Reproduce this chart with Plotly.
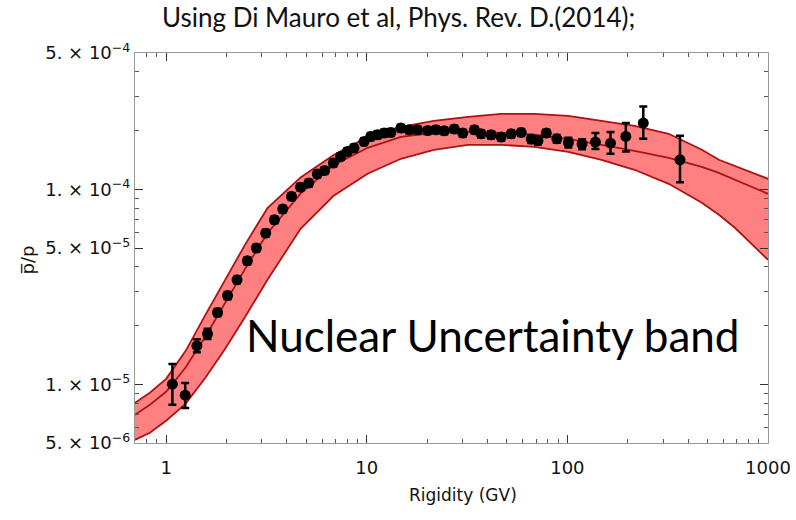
import plotly.graph_objects as go

# ---- data ----
band_x = [0.70, 0.83, 1.0, 1.25, 1.57, 1.97, 2.48, 3.2, 4.68, 6.84, 10.1, 14.8, 21.6, 32, 46.8,
          68.4, 101, 148, 216, 320, 468, 569, 684, 1000]
band_upper = [8.04e-6, 9.05e-6, 1.067e-5, 1.48e-5, 2.27e-5, 3.42e-5, 5.22e-5, 8.0e-5, 1.15e-4,
              1.50e-4, 1.858e-4, 2.091e-4, 2.245e-4, 2.353e-4, 2.438e-4, 2.438e-4, 2.381e-4,
              2.245e-4, 2.117e-4, 1.926e-4, 1.594e-4, 1.417e-4, 1.320e-4, 1.132e-4]
band_lower = [5.19e-6, 5.64e-6, 6.50e-6, 7.94e-6, 1.080e-5, 1.521e-5, 2.220e-5, 3.435e-5, 6.27e-5,
              9.26e-5, 1.201e-4, 1.434e-4, 1.594e-4, 1.691e-4, 1.691e-4, 1.651e-4, 1.557e-4,
              1.417e-4, 1.259e-4, 1.067e-4, 8.53e-5, 7.40e-5, 6.35e-5, 4.35e-5]
band_center = [6.98e-6, 7.85e-6, 9.15e-6, 1.22e-5, 1.76e-5, 2.62e-5, 3.92e-5, 5.95e-5, 9.5e-5,
               1.33e-4, 1.632e-4, 1.858e-4, 1.949e-4, 1.972e-4, 1.949e-4, 1.904e-4, 1.816e-4,
               1.691e-4, 1.576e-4, 1.450e-4, 1.304e-4, 1.215e-4, 1.119e-4, 9.48e-5]

rigidity = [1.075, 1.245, 1.424, 1.609, 1.805, 2.025, 2.257, 2.541, 2.818, 3.137, 3.467, 3.815,
            4.217, 4.677, 5.146, 5.669, 6.166, 6.816, 7.413, 8.008, 8.642, 9.694, 10.47, 11.31,
            12.21, 13.18, 14.79, 16.27, 17.92, 20.11, 22.13, 24.35, 27.32, 30.10, 34.40, 37.15,
            41.69, 46.77, 52.48, 58.88, 66.07, 71.38, 78.52, 88.61, 101.2, 118.4, 138.0, 164.1,
            195.6, 239.0, 364.3]
ratio = [1.002e-5, 8.80e-6, 1.576e-5, 1.816e-5, 2.335e-5, 2.853e-5, 3.435e-5, 4.30e-5, 4.995e-5,
         5.96e-5, 6.98e-5, 7.92e-5, 9.19e-5, 1.026e-4, 1.076e-4, 1.197e-4, 1.249e-4, 1.363e-4,
         1.473e-4, 1.563e-4, 1.627e-4, 1.758e-4, 1.866e-4, 1.904e-4, 1.942e-4, 1.956e-4, 2.060e-4,
         2.019e-4, 2.019e-4, 2.002e-4, 2.019e-4, 1.995e-4, 2.036e-4, 1.942e-4, 2.019e-4, 1.926e-4,
         1.904e-4, 1.852e-4, 1.926e-4, 1.956e-4, 1.809e-4, 1.779e-4, 1.942e-4, 1.816e-4, 1.738e-4,
         1.705e-4, 1.746e-4, 1.725e-4, 1.866e-4, 2.185e-4, 1.417e-4]
err_plus = [2.67e-6, 1.34e-6, 1.25e-6, 1.1e-6, 1.0e-6, 1.2e-6, 1.4e-6, 1.7e-6, 2.0e-6, 2.4e-6,
            2.8e-6, 3.2e-6, 3.7e-6, 4.1e-6, 4.3e-6, 4.8e-6, 5.0e-6, 5.5e-6, 5.9e-6, 6.3e-6, 6.5e-6,
            7.0e-6, 8e-6, 8e-6, 8e-6, 8e-6, 8e-6, 8e-6, 8e-6, 8e-6, 8e-6, 8e-6, 8e-6, 8e-6, 8e-6,
            8e-6, 8e-6, 8e-6, 8e-6, 8e-6, 8e-6, 8e-6, 8e-6, 8.5e-6, 1.0e-5, 1.0e-5, 1.96e-5,
            2.40e-5, 3.21e-5, 4.72e-5, 4.65e-5]
err_minus = [2.17e-6, 1.25e-6, 1.17e-6, 1.1e-6, 1.0e-6, 1.2e-6, 1.4e-6, 1.7e-6, 2.0e-6, 2.4e-6,
             2.8e-6, 3.2e-6, 3.7e-6, 4.1e-6, 4.3e-6, 4.8e-6, 5.0e-6, 5.5e-6, 5.9e-6, 6.3e-6, 6.5e-6,
             7.0e-6, 8e-6, 8e-6, 8e-6, 8e-6, 8e-6, 8e-6, 8e-6, 8e-6, 8e-6, 8e-6, 8e-6, 8e-6, 8e-6,
             8e-6, 8e-6, 8e-6, 8e-6, 8e-6, 8e-6, 8e-6, 8e-6, 8.5e-6, 1.0e-5, 1.0e-5, 1.38e-5,
             2.05e-5, 3.04e-5, 3.69e-5, 3.29e-5]

x_major = [1, 10, 100, 1000]
x_major_text = ["1", "10", "100", "1000"]
x_minor = [0.8, 0.9, 2, 3, 4, 5, 6, 7, 8, 9, 20, 30, 40, 50, 60, 70, 80, 90,
           200, 300, 400, 500, 600, 700, 800, 900]
y_major = [5e-6, 1e-5, 5e-5, 1e-4, 5e-4]
y_major_text = ["5. × 10<sup>−6</sup>", "1. × 10<sup>−5</sup>", "5. × 10<sup>−5</sup>",
                "1. × 10<sup>−4</sup>", "5. × 10<sup>−4</sup>"]
y_minor = [6e-6, 7e-6, 8e-6, 9e-6, 2e-5, 3e-5, 4e-5, 6e-5, 7e-5, 8e-5, 9e-5,
           2e-4, 3e-4, 4e-4]

BAND_FILL = "rgb(255,128,128)"
BAND_LINE = "rgb(175,18,18)"

fig = go.Figure()
fig.add_trace(go.Scatter(x=band_x, y=band_upper, mode="lines",
                         line=dict(color=BAND_LINE, width=1.8), hoverinfo="skip"))
fig.add_trace(go.Scatter(x=band_x, y=band_lower, mode="lines", fill="tonexty",
                         fillcolor=BAND_FILL, line=dict(color=BAND_LINE, width=1.8),
                         hoverinfo="skip"))
fig.add_trace(go.Scatter(x=band_x, y=band_center, mode="lines",
                         line=dict(color=BAND_LINE, width=1.8), hoverinfo="skip"))
fig.add_trace(go.Scatter(x=rigidity, y=ratio, mode="markers",
                         marker=dict(color="black", size=11),
                         error_y=dict(type="data", symmetric=False, array=err_plus,
                                      arrayminus=err_minus, color="black", thickness=2.5,
                                      width=4)))

tickfont = dict(family="DejaVu Sans", size=18, color="#111")
fig.update_xaxes(type="log", range=[-0.155, 3.0], tickmode="array", tickvals=x_major,
                 ticktext=x_major_text, ticks="inside", ticklen=8, tickcolor="#333",
                 showline=True, linecolor="#999", linewidth=1, mirror="ticks",
                 showgrid=False, zeroline=False, tickfont=tickfont, ticklabelstandoff=8,
                 automargin=False,
                 minor=dict(tickmode="array", tickvals=x_minor, ticks="inside", ticklen=4,
                            tickcolor="#555", showgrid=False))
fig.update_yaxes(type="log", range=[-5.30103, -3.30103], tickmode="array", tickvals=y_major,
                 ticktext=y_major_text, ticks="inside", ticklen=8, tickcolor="#333",
                 showline=True, linecolor="#999", linewidth=1, mirror="ticks",
                 showgrid=False, zeroline=False, tickfont=tickfont, automargin=False,
                 minor=dict(tickmode="array", tickvals=y_minor, ticks="inside", ticklen=4,
                            tickcolor="#555", showgrid=False))

fig.update_layout(
    width=796, height=520, showlegend=False,
    paper_bgcolor="white", plot_bgcolor="white",
    margin=dict(l=135, r=28, t=53, b=77, autoexpand=False),
    annotations=[
        dict(text="Using Di Mauro et al, Phys. Rev. D.(2014);", xref="paper", yref="paper",
             x=0.4155, y=1.092, xanchor="center", yanchor="middle", showarrow=False,
             font=dict(family="Lato", size=26, color="#111")),
        dict(text="Rigidity (GV)", xref="paper", yref="paper", x=0.518, y=-0.133,
             xanchor="center", yanchor="middle", showarrow=False,
             font=dict(family="DejaVu Sans", size=17, color="#111")),
        dict(text="p\u0305/p", xref="paper", yref="paper", x=-0.17, y=0.469,
             xanchor="center", yanchor="middle", showarrow=False, textangle=-90,
             font=dict(family="DejaVu Sans", size=18, color="#111")),
        dict(text="Nuclear Uncertainty band", xref="paper", yref="paper", x=0.564, y=0.277,
             xanchor="center", yanchor="middle", showarrow=False,
             font=dict(family="Lato", size=44, color="black")),
    ],
)

fig.write_html("out.html")
